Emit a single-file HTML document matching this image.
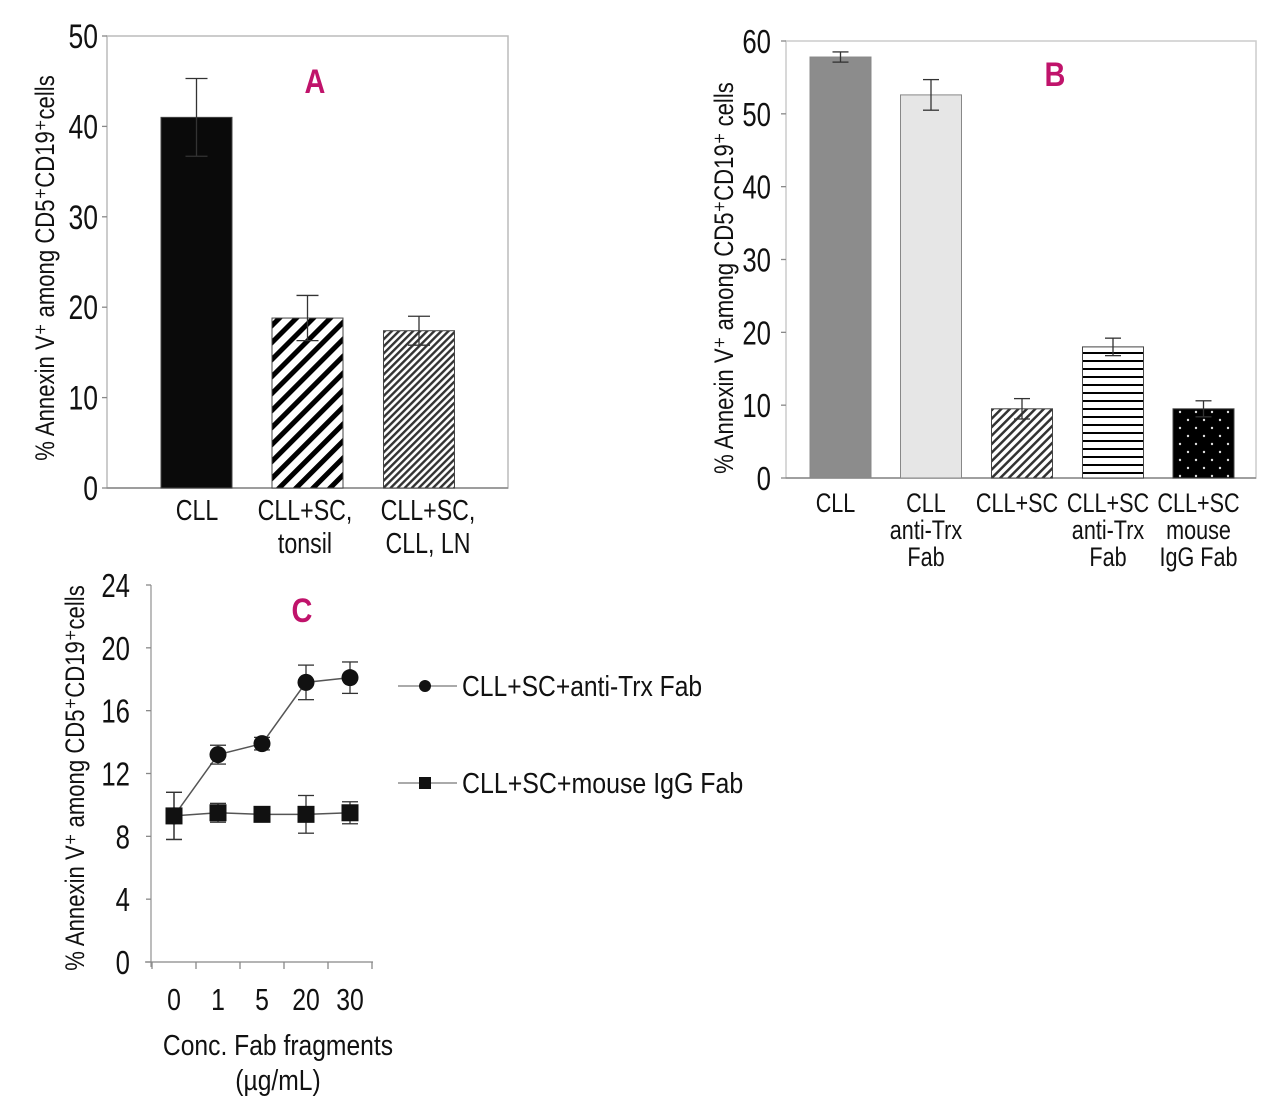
<!DOCTYPE html>
<html><head><meta charset="utf-8"><style>
html,body{margin:0;padding:0;background:#fff;}
svg{display:block;font-family:"Liberation Sans",sans-serif;}
</style></head><body>
<svg id="fig" width="1280" height="1117" viewBox="0 0 1280 1117" xmlns="http://www.w3.org/2000/svg">
<defs>
<pattern id="pTonsil" width="12" height="12" patternUnits="userSpaceOnUse" patternTransform="rotate(45)">
<rect width="12" height="12" fill="#fff"/><rect width="5" height="12" fill="#000"/></pattern>
<pattern id="pLN" width="5" height="5" patternUnits="userSpaceOnUse" patternTransform="rotate(45)">
<rect width="5" height="5" fill="#fff"/><rect width="2.4" height="5" fill="#333"/></pattern>
<pattern id="pDiag" width="6" height="6" patternUnits="userSpaceOnUse" patternTransform="rotate(45)">
<rect width="6" height="6" fill="#fff"/><rect width="2.5" height="6" fill="#333"/></pattern>
<pattern id="pHoriz" width="10" height="8" patternUnits="userSpaceOnUse">
<rect width="10" height="8" fill="#fff"/><rect width="10" height="2" fill="#000"/></pattern>
<pattern id="pDots" width="16" height="16" patternUnits="userSpaceOnUse">
<rect width="16" height="16" fill="#000"/><circle cx="4" cy="4" r="1.2" fill="#ddd"/><circle cx="12" cy="12" r="1.2" fill="#ddd"/></pattern>
</defs>
<g id="A"></g>
<g id="B"></g>
<g id="C"></g>
</svg>
<script>
// Panel A data
const aCats = [["CLL"],["CLL+SC,","tonsil"],["CLL+SC,","CLL, LN"]];
const aVals = [41, 18.8, 17.4];
const aErr = [4.3, 2.5, 1.6];
const aTicks = [0,10,20,30,40,50];
// Panel B data
const bCats = [["CLL"],["CLL","anti-Trx","Fab"],["CLL+SC"],["CLL+SC","anti-Trx","Fab"],["CLL+SC","mouse","IgG Fab"]];
const bVals = [57.8, 52.6, 9.5, 18.0, 9.5];
const bErr = [0.7, 2.1, 1.4, 1.2, 1.1];
const bTicks = [0,10,20,30,40,50,60];
// Panel C data
const cCats = ["0","1","5","20","30"];
const cTrx = [9.3, 13.2, 13.9, 17.8, 18.1];
const cTrxErr = [1.5, 0.6, 0.4, 1.1, 1.0];
const cIgG = [9.3, 9.5, 9.4, 9.4, 9.5];
const cIgGErr = [1.5, 0.6, 0.2, 1.2, 0.7];
const cTicks = [0,4,8,12,16,20,24];

const NS="http://www.w3.org/2000/svg";
function el(parent,tag,attrs){const e=document.createElementNS(NS,tag);for(const k in attrs)e.setAttribute(k,attrs[k]);parent.appendChild(e);return e;}
function txt(parent,x,y,s,size,anchor,sx,fill,weight){
  const t=el(parent,"text",{x:x/sx,y:y,transform:`scale(${sx},1)`,"font-size":size,"text-anchor":anchor||"start",fill:fill||"#111"});
  if(weight)t.setAttribute("font-weight",weight);
  t.textContent=s;return t;}
function vtxt(parent,cx,cy,s,size,sx){
  const t=el(parent,"text",{x:0,y:0,transform:`translate(${cx},${cy}) rotate(-90) scale(${sx},1)`,"font-size":size,"text-anchor":"middle",fill:"#111"});
  t.textContent=s;return t;}
function errbar(g,x,yTop,yBot,hw){
  el(g,"line",{x1:x,x2:x,y1:yTop,y2:yBot,stroke:"#333","stroke-width":1.3});
  el(g,"line",{x1:x-hw,x2:x+hw,y1:yTop,y2:yTop,stroke:"#333","stroke-width":1.3});
  el(g,"line",{x1:x-hw,x2:x+hw,y1:yBot,y2:yBot,stroke:"#333","stroke-width":1.3});}

// ---- Panel A
(function(){
const g=document.getElementById("A");
const y0=488,y1=36,vmax=50,L=107,R=508;
const Y=v=>y0-(v/vmax)*(y0-y1);
const centers=[196.5,307.5,419], bw=71;
const labelX=[197,305,428];
const fills=["#0a0a0a","url(#pTonsil)","url(#pLN)"];
const frame=el(g,"rect",{x:L,y:y1,width:R-L,height:y0-y1,fill:"none",stroke:"#bbb","stroke-width":1.5});

aTicks.forEach(t=>{el(g,"line",{x1:L-5,x2:L,y1:Y(t),y2:Y(t),stroke:"#888","stroke-width":1.3});
  const lb=txt(g,98,Y(t)+12,String(t),34,"end",0.78);
  });
el(g,"line",{x1:L,x2:R,y1:y0,y2:y0,stroke:"#888","stroke-width":1.5});
aVals.forEach((v,i)=>{
  const b=el(g,"rect",{x:centers[i]-bw/2,y:Y(v),width:bw,height:y0-Y(v),fill:fills[i],stroke:"#444","stroke-width":1});
  
  errbar(g,centers[i],Y(v+aErr[i]),Y(v-aErr[i]),11);
  aCats[i].forEach((s,j)=>{const lb=txt(g,labelX[i],520+j*33,s,29,"middle",0.8);
    });
});
const yl=vtxt(g,54,268,"% Annexin V⁺ among CD5⁺CD19⁺cells",27,0.82);

const tl=txt(g,315,93,"A",34,"middle",0.85,"#c0136b","bold");

})();

// ---- Panel B
(function(){
const g=document.getElementById("B");
const y0=478,y1=41,vmax=60,L=786,R=1256;
const Y=v=>y0-(v/vmax)*(y0-y1);
const centers=[840.5,931,1022,1113,1203.5], bw=61;
const fills=["#8c8c8c","#e6e6e6","url(#pDiag)","url(#pHoriz)","url(#pDots)"];
const frame=el(g,"rect",{x:L,y:y1,width:R-L,height:y0-y1,fill:"none",stroke:"#ccc","stroke-width":1.5});

bTicks.forEach(t=>{el(g,"line",{x1:L-5,x2:L,y1:Y(t),y2:Y(t),stroke:"#888","stroke-width":1.3});
  const lb=txt(g,771,Y(t)+12,String(t),33,"end",0.78);
  });
el(g,"line",{x1:L,x2:R,y1:y0,y2:y0,stroke:"#888","stroke-width":1.5});
bVals.forEach((v,i)=>{
  const b=el(g,"rect",{x:centers[i]-bw/2,y:Y(v),width:bw,height:y0-Y(v),fill:fills[i],stroke:i<2?"#888":"#444","stroke-width":1});
  
  errbar(g,centers[i],Y(v+bErr[i]),Y(v-bErr[i]),8);
  bCats[i].forEach((s,j)=>{const lb=txt(g,centers[i]-5,512+j*27,s,27,"middle",0.8);
    });
});
const yl=vtxt(g,733,278,"% Annexin V⁺ among CD5⁺CD19⁺ cells",27,0.82);

const tl=txt(g,1055,86,"B",34,"middle",0.85,"#c0136b","bold");

})();

// ---- Panel C
(function(){
const g=document.getElementById("C");
const y0=962,y1=585,vmax=24,L=151,R=373;
const Y=v=>y0-(v/vmax)*(y0-y1);
const X=i=>174+i*44;
el(g,"line",{x1:L,x2:L,y1:y1,y2:y0+5,stroke:"#999","stroke-width":1.3});
el(g,"line",{x1:L-6,x2:R,y1:y0,y2:y0,stroke:"#888","stroke-width":1.3});
cTicks.forEach(t=>{el(g,"line",{x1:L-5,x2:L,y1:Y(t),y2:Y(t),stroke:"#888","stroke-width":1.3});
  const lb=txt(g,130,Y(t)+12,String(t),33,"end",0.78);
  });
for(let i=0;i<=cCats.length;i++){el(g,"line",{x1:X(i)-22,x2:X(i)-22,y1:y0,y2:y0+7,stroke:"#888","stroke-width":1.3});}
cCats.forEach((c,i)=>{const lb=txt(g,X(i),1010,c,31,"middle",0.8);
  });
const p1=cTrx.map((v,i)=>X(i)+","+Y(v)).join(" ");
const p2=cIgG.map((v,i)=>X(i)+","+Y(v)).join(" ");
const l1=el(g,"polyline",{points:p1,fill:"none",stroke:"#555","stroke-width":1.5});

const l2=el(g,"polyline",{points:p2,fill:"none",stroke:"#555","stroke-width":1.5});

cTrx.forEach((v,i)=>{errbar(g,X(i),Y(v+cTrxErr[i]),Y(v-cTrxErr[i]),8);});
cIgG.forEach((v,i)=>{errbar(g,X(i),Y(v+cIgGErr[i]),Y(v-cIgGErr[i]),8);});
cTrx.forEach((v,i)=>{const c=el(g,"circle",{cx:X(i),cy:Y(v),r:8.5,fill:"#111"});
  });
cIgG.forEach((v,i)=>{const s=el(g,"rect",{x:X(i)-8.5,y:Y(v)-8.5,width:17,height:17,fill:"#111"});
  });
el(g,"line",{x1:398,x2:457,y1:686,y2:686,stroke:"#777","stroke-width":1.3});
const lc=el(g,"circle",{cx:425,cy:686,r:6,fill:"#111"});

const lt1=txt(g,462,696,"CLL+SC+anti-Trx Fab",29,"start",0.85);

el(g,"line",{x1:398,x2:457,y1:783,y2:783,stroke:"#777","stroke-width":1.3});
const ls=el(g,"rect",{x:419,y:777,width:12,height:12,fill:"#111"});

const lt2=txt(g,462,793,"CLL+SC+mouse IgG Fab",29,"start",0.86);

const xl1=txt(g,278,1055,"Conc. Fab fragments",29,"middle",0.85);

const xl2=txt(g,278,1090,"(µg/mL)",29,"middle",0.85);

const yl=vtxt(g,84,778,"% Annexin V⁺ among CD5⁺CD19⁺cells",27,0.82);

const tl=txt(g,302,622,"C",34,"middle",0.85,"#c0136b","bold");

})();
</script>
</body></html>
